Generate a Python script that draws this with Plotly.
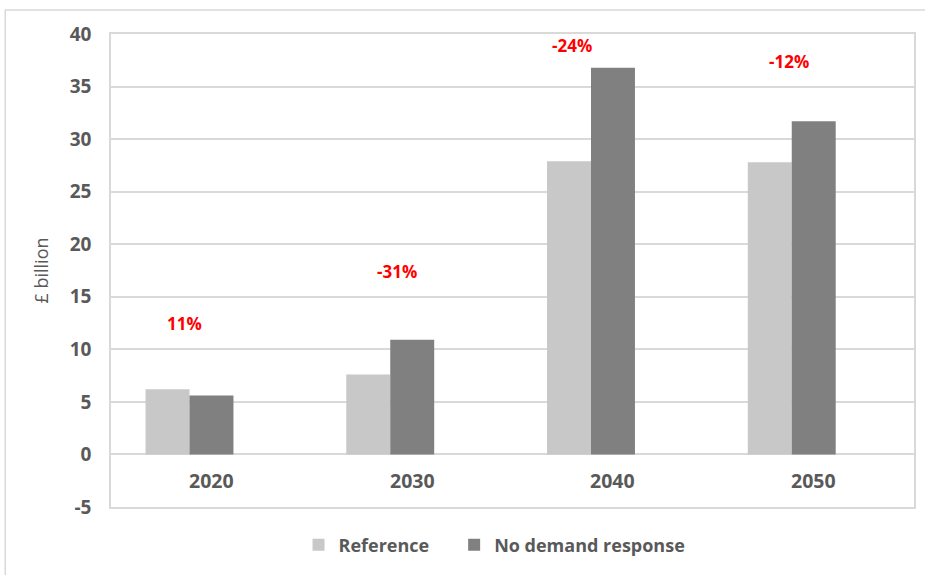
import plotly.graph_objects as go

years = ["2020", "2030", "2040", "2050"]
reference = [6.2, 7.6, 27.9, 27.8]
no_demand_response = [5.6, 10.9, 36.8, 31.7]
pct_labels = ["11%", "-31%", "-24%", "-12%"]
y_ticks = [-5, 0, 5, 10, 15, 20, 25, 30, 35, 40]
y_tick_text = [str(v) for v in y_ticks]

# layout constants for the hand-placed percentage labels
pct_label_y = [12.5, 17.4, 38.9, 37.4]
pct_label_xshift = [-27, -15, -41, -25]

W, H = 925, 575
L, R, T, B = 111, 9, 34, 68
grey_txt = "#595959"
grid = "#d9d9d9"
font_family = "'Open Sans', sans-serif"

bar_w = 0.219
off0 = -0.328

pw = W - L - R
ph = H - T - B

fig = go.Figure()
fig.add_trace(go.Bar(x=years, y=reference, name="Reference",
                     marker=dict(color="#c8c8c8", line=dict(width=0)),
                     width=bar_w, offset=off0, legend="legend", showlegend=True))
fig.add_trace(go.Bar(x=years, y=no_demand_response, name="No demand response",
                     marker=dict(color="#808080", line=dict(width=0)),
                     width=bar_w, offset=off0 + bar_w, legend="legend2", showlegend=True))

annotations = []
for i, (lab, ly, xs) in enumerate(zip(pct_labels, pct_label_y, pct_label_xshift)):
    annotations.append(dict(x=i, y=ly, xref="x", yref="y", text=lab, showarrow=False, xshift=xs,
                            font=dict(color="#ff0000", size=17, family=font_family, weight="bold")))
for i, yr in enumerate(years):
    annotations.append(dict(x=i, y=-2.5, xref="x", yref="y", text=yr, showarrow=False,
                            font=dict(color=grey_txt, size=19.5, family=font_family, weight="bold")))

leg_font = dict(size=18, color=grey_txt, family=font_family, weight="bold")
leg_y = (H - B - 545) / ph

fig.update_layout(
    width=W, height=H,
    margin=dict(l=L, r=R, t=T, b=B),
    paper_bgcolor="white", plot_bgcolor="white",
    barmode="overlay",
    showlegend=True,
    font=dict(family=font_family, color=grey_txt),
    xaxis=dict(type="category", showticklabels=False, showgrid=False, zeroline=False,
               showline=True, linecolor=grid, linewidth=1.5, mirror=True,
               range=[-0.5, 3.5]),
    yaxis=dict(range=[-5, 40], tickvals=y_ticks, ticktext=y_tick_text,
               showgrid=True, gridcolor=grid, gridwidth=1.5,
               zeroline=True, zerolinecolor=grid, zerolinewidth=1.5,
               showline=True, linecolor=grid, linewidth=1.5, mirror=True,
               ticks="outside", ticklen=0, ticklabelstandoff=14,
               tickfont=dict(size=19, color=grey_txt, family=font_family, weight="bold"),
               title=dict(text="£ billion", standoff=16,
                          font=dict(size=18, color=grey_txt, family=font_family))),
    legend=dict(orientation="h", x=(299 - L) / pw, xanchor="left", y=leg_y, yanchor="middle",
                font=leg_font, itemclick=False, itemdoubleclick=False, visible=True),
    legend2=dict(orientation="h", x=(455 - L) / pw, xanchor="left", y=leg_y, yanchor="middle",
                 font=leg_font, itemclick=False, itemdoubleclick=False, visible=True),
    annotations=annotations,
    shapes=[dict(type="rect", xref="paper", yref="paper",
                 x0=(5 - L) / pw, x1=(W + 5 - L) / pw,
                 y0=(H - B - (H + 5)) / ph, y1=(H - B - 10) / ph,
                 line=dict(color=grid, width=1.5), layer="below")],
)

fig.write_html("out.html")
